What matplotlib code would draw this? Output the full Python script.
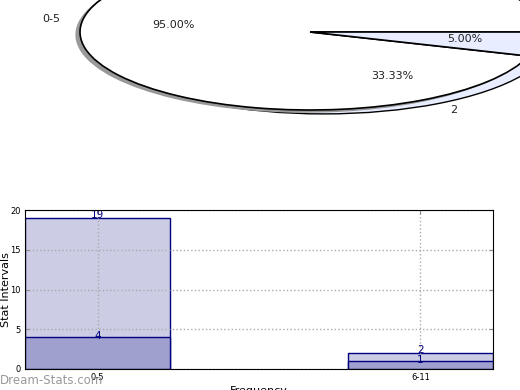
import matplotlib
matplotlib.use("Agg")
import matplotlib.pyplot as plt
import numpy as np

# ---- data ----
categories = ["0-5", "6-11"]
pie1_values = [19, 1]
pie1_labels = ["0-5", "6-11"]
pie2_values = [4, 2]
pie2_labels = ["4", "2"]
bar_light = [19, 2]
bar_dark = [4, 1]
yticks = [0, 5, 10, 15, 20]

W, H = 520, 390
fig = plt.figure(figsize=(W / 100, H / 100), dpi=100)

# ---- elliptical pie area ----
def fx(px):
    return px / W

def fy(py):
    return 1 - py / H

pax = fig.add_axes([fx(80), fy(110), 460 / W, 156 / H])
light_blue = "#e8eeff"

# second (under) pie
w2, t2, a2 = pax.pie(pie2_values, labels=pie2_labels, startangle=0,
                     colors=["white", light_blue], center=(0.06, -0.05),
                     autopct=lambda p: f"{p:.2f}%", pctdistance=0.6,
                     labeldistance=1.1,
                     wedgeprops=dict(edgecolor="black", linewidth=1.0),
                     textprops=dict(fontsize=8, color="#222222"))
for w in w2:
    w.set_zorder(1)
# shadow of first pie
ws = pax.pie(pie1_values, startangle=0, colors=["#999999", "#999999"],
             center=(-0.02, -0.035),
             wedgeprops=dict(edgecolor="none", linewidth=0))[0]
for w in ws:
    w.set_zorder(2)
# first pie
w1, t1, a1 = pax.pie(pie1_values, labels=pie1_labels, startangle=0,
                     colors=["white", light_blue],
                     autopct=lambda p: f"{p:.2f}%", pctdistance=0.6,
                     labeldistance=1.1,
                     wedgeprops=dict(edgecolor="black", linewidth=1.2),
                     textprops=dict(fontsize=8, color="#222222"))
for w in w1:
    w.set_zorder(3)
for t in list(t1) + list(a1) + list(t2) + list(a2):
    t.set_zorder(5)
# small nudge of the narrow slice's percentage text to match reference
px_, py_ = a1[1].get_position()
a1[1].set_position((px_ + 0.08, py_))
pax.set_aspect("auto")
pax.set_xlim(-1, 1)
pax.set_ylim(-1, 1)
pax.axis("off")

# ---- bar chart ----
bax = fig.add_axes([fx(25), fy(369), 468 / W, 159 / H])
x = np.arange(len(categories))
width = 0.45
bax.bar(x, bar_light, width=width, color="#ccccE5", edgecolor="#000080",
        linewidth=1.0, zorder=2)
bax.bar(x, bar_dark, width=width, color="#a0a0ce", edgecolor="#000080",
        linewidth=1.0, zorder=3)
for xi, v in zip(x, bar_light):
    bax.annotate(str(v), (xi, v), xytext=(0, 2), textcoords="offset points",
                 ha="center", va="center", fontsize=7.5, color="#000080",
                 zorder=6)
for xi, v in zip(x, bar_dark):
    bax.annotate(str(v), (xi, v), xytext=(0, 1), textcoords="offset points",
                 ha="center", va="center", fontsize=7.5, color="#000080",
                 zorder=6)
bax.set_xlim(-0.2245, 1.2245)
bax.set_ylim(0, 20)
bax.set_xticks(x)
bax.set_xticklabels(categories)
bax.set_yticks(yticks)
bax.tick_params(axis="both", labelsize=6, direction="in", length=3,
                top=True, right=True, color="#888888", pad=3)
bax.grid(True, linestyle=":", color="#aaaaaa", linewidth=1.0, zorder=4)
bax.set_axisbelow(False)
for g in bax.get_xgridlines() + bax.get_ygridlines():
    g.set_zorder(4)
for s in bax.spines.values():
    s.set_zorder(7)
bax.set_ylabel("Stat Intervals", fontsize=8)
bax.yaxis.set_label_coords(-14 / 468, 0.5)
bax.set_xlabel("Frequency", fontsize=8, labelpad=3)

fig.text(0, fy(380), "Dream-Stats.com", fontsize=8.5, color="#999999",
         ha="left", va="center")

fig.savefig("out.png", dpi=100)
